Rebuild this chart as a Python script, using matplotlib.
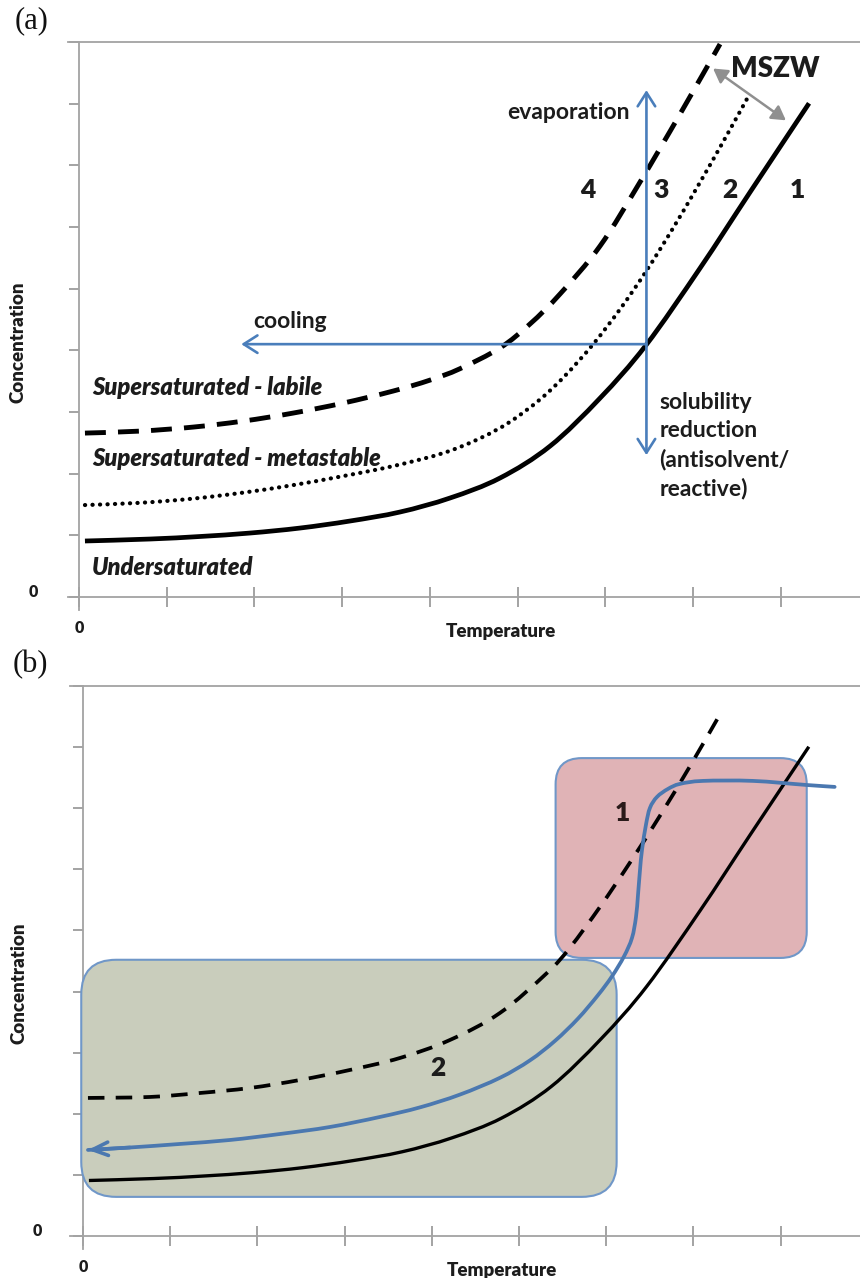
import matplotlib
matplotlib.use("Agg")
import matplotlib.pyplot as plt
from matplotlib.patches import FancyArrowPatch, FancyBboxPatch, PathPatch
from matplotlib.path import Path
from matplotlib.transforms import ScaledTranslation

plt.rcParams['font.family'] = ['Lato', 'DejaVu Sans']

# ---------------- data ----------------
temp_ticks = list(range(0, 9))
conc_ticks = list(range(0, 10))

# solubility curve (solid)
sol_T = [0.068, 0.810, 1.380, 1.950, 2.520, 3.090, 3.660, 4.230, 4.800,
         5.371, 5.941, 6.465, 7.081, 7.651, 8.324]
sol_C = [0.908, 0.940, 0.981, 1.037, 1.118, 1.232, 1.378, 1.605, 1.929,
         2.447, 3.225, 4.084, 5.332, 6.564, 8.006]

# metastable limit (dotted), panel a
meta_T = [0.068, 0.696, 1.300, 1.870, 2.440, 3.010, 3.580, 4.151, 4.572,
          4.914, 5.257, 5.542, 5.861, 6.169, 6.465, 6.773, 7.047, 7.332, 7.617]
meta_C = [1.491, 1.527, 1.595, 1.692, 1.814, 1.960, 2.122, 2.333, 2.573,
          2.840, 3.204, 3.588, 4.097, 4.667, 5.279, 5.980, 6.641, 7.350, 8.079]

# labile limit (dashed), panel a
labile_T = [0.068, 0.696, 1.300, 1.870, 2.440, 3.010, 3.580, 4.002, 4.344,
            4.800, 5.143, 5.485, 5.941, 6.397, 6.853, 7.309]
labile_C = [2.658, 2.690, 2.755, 2.852, 2.982, 3.144, 3.339, 3.517, 3.702,
            4.039, 4.428, 4.914, 5.692, 6.729, 7.831, 8.966]

# labile limit (dashed), panel b
labile_b_T = [0.057, 0.768, 1.342, 1.915, 2.489, 3.062, 3.635, 4.209, 4.782,
              5.321, 5.585, 5.929, 6.273, 6.617, 6.961, 7.282]
labile_b_C = [2.259, 2.275, 2.340, 2.422, 2.553, 2.717, 2.913, 3.208, 3.650,
              4.304, 4.719, 5.385, 6.111, 6.877, 7.687, 8.478]

# process trajectory, panel b (from right to left)
path_T = [8.620, 8.291, 7.683, 7.110, 6.846, 6.709, 6.583, 6.502, 6.456,
          6.411, 6.388, 6.365, 6.342, 6.296, 6.204, 6.067, 5.906, 5.677,
          5.413, 5.126, 4.782, 4.323, 3.865, 3.406, 2.833, 2.259, 1.686,
          1.112, 0.539, 0.057]
path_C = [7.349, 7.381, 7.447, 7.447, 7.398, 7.316, 7.185, 7.005, 6.727,
          6.318, 5.990, 5.581, 5.221, 4.877, 4.574, 4.250, 3.941, 3.558,
          3.193, 2.874, 2.589, 2.314, 2.105, 1.948, 1.784, 1.669, 1.571,
          1.506, 1.448, 1.408]

# operating arrows, panel a
cooling_T = [6.47, 1.85]
cooling_C = [4.10, 4.10]
vertical_T = [6.47, 6.47]
vertical_C = [2.30, 8.22]
mszw_T = [7.23, 8.06]
mszw_C = [8.57, 7.73]

# regions, panel b: (T0, C0, T1, C1)
region_growth = (-0.02, 0.64, 6.12, 4.52)
region_nucleation = (5.42, 4.55, 8.30, 7.82)

# ---------------- styling ----------------
AXIS_GREY = '#a3a3a3'
TICK_GREY = '#8a8a8a'
BLUE = '#4a7ebb'
TEXT = '#1c1c1c'
ANN = 16.5

fig = plt.figure(figsize=(8.6, 12.78), dpi=100)
W, H = 860.0, 1278.0


def smooth_curve(xs, ys):
    """Cubic Bezier path running through every given point (Catmull-Rom)."""
    pts = list(zip(xs, ys))
    verts = [pts[0]]
    codes = [Path.MOVETO]
    n = len(pts)
    for i in range(n - 1):
        p0 = pts[i - 1] if i > 0 else pts[i]
        p1 = pts[i]
        p2 = pts[i + 1]
        p3 = pts[i + 2] if i + 2 < n else pts[i + 1]
        c1 = (p1[0] + (p2[0] - p0[0]) / 6, p1[1] + (p2[1] - p0[1]) / 6)
        c2 = (p2[0] - (p3[0] - p1[0]) / 6, p2[1] - (p3[1] - p1[1]) / 6)
        verts += [c1, c2, p2]
        codes += [Path.CURVE4] * 3
    return Path(verts, codes)


def draw_curve(ax, xs, ys, lw, color='black', dashes=None, cap='butt', z=4):
    patch = PathPatch(smooth_curve(xs, ys), facecolor='none', edgecolor=color,
                      lw=lw, zorder=z, capstyle=cap, joinstyle='round')
    if dashes is not None:
        patch.set_linestyle((0, dashes))
    ax.add_patch(patch)
    return patch


def make_axes(left_px, right_px, top_px, bottom_px, xlim, ylim):
    ax = fig.add_axes([left_px / W, 1 - bottom_px / H,
                       (right_px - left_px) / W, (bottom_px - top_px) / H])
    ax.set_xlim(*xlim)
    ax.set_ylim(*ylim)
    ax.spines['right'].set_visible(False)
    ax.spines['left'].set_position(('data', 0))
    ax.spines['bottom'].set_position(('data', 0))
    for s in ('left', 'bottom', 'top'):
        ax.spines[s].set_color(AXIS_GREY)
        ax.spines[s].set_linewidth(1.3)
    ax.set_xticks(temp_ticks)
    ax.set_xticklabels(['0'] + [''] * (len(temp_ticks) - 1))
    ax.set_yticks(conc_ticks)
    ax.set_yticklabels(['0'] + [''] * (len(conc_ticks) - 1))
    ax.tick_params(axis='x', direction='inout', length=15, width=1.1,
                   color=TICK_GREY, pad=9, labelsize=11.5, labelcolor=TEXT)
    ax.tick_params(axis='y', direction='out', length=7.5, width=1.1,
                   color=TICK_GREY, pad=22, labelsize=11.5, labelcolor=TEXT)
    for lab in ax.get_xticklabels() + ax.get_yticklabels():
        lab.set_fontweight('heavy')
    off = ScaledTranslation(0, 5 / 72, fig.dpi_scale_trans)
    for lab in ax.get_yticklabels():
        lab.set_transform(lab.get_transform() + off)
    ax.set_facecolor('none')
    return ax


# ================= panel (a) =================
axa = make_axes(68, 860, 42, 610, (-0.1254, 8.905), (-0.211, 9))

draw_curve(axa, sol_T, sol_C, lw=3.4)
draw_curve(axa, meta_T, meta_C, lw=3.0, dashes=(0.05, 1.75), cap='round')
draw_curve(axa, labile_T, labile_C, lw=3.5, dashes=(4.3, 2.5))

axa.add_patch(FancyArrowPatch((cooling_T[0], cooling_C[0]), (cooling_T[1], cooling_C[1]),
                              arrowstyle='->,head_length=0.55,head_width=0.35',
                              mutation_scale=18, color=BLUE, lw=1.9, zorder=5,
                              shrinkA=0, shrinkB=0))
axa.add_patch(FancyArrowPatch((vertical_T[0], vertical_C[0]), (vertical_T[1], vertical_C[1]),
                              arrowstyle='<->,head_length=0.55,head_width=0.35',
                              mutation_scale=18, color=BLUE, lw=1.9, zorder=5,
                              shrinkA=0, shrinkB=0))
axa.add_patch(FancyArrowPatch((mszw_T[0], mszw_C[0]), (mszw_T[1], mszw_C[1]),
                              arrowstyle='<|-|>,head_length=0.6,head_width=0.35',
                              mutation_scale=14, color='#8f8f8f', lw=1.8, zorder=5,
                              shrinkA=0, shrinkB=0))

axa.text(7.94, 8.57, 'MSZW', fontsize=20, fontweight='heavy', color=TEXT,
         ha='center', va='center')
for lbl, tx in zip(['4', '3', '2', '1'], [5.80, 6.64, 7.42, 8.19]):
    axa.text(tx, 6.60, lbl, fontsize=19, fontweight='heavy', color=TEXT,
             ha='center', va='center')
axa.text(5.58, 7.86, 'evaporation', fontsize=ANN, fontweight='bold',
         color=TEXT, ha='center', va='center')
axa.text(2.41, 4.46, 'cooling', fontsize=ANN, fontweight='bold',
         color=TEXT, ha='center', va='center')
axa.text(6.62, 3.33, 'solubility\nreduction\n(antisolvent/\nreactive)',
         fontsize=ANN, fontweight='bold', color=TEXT, ha='left', va='top',
         linespacing=1.42)
for txt, cy in [('Supersaturated - labile', 3.39),
                ('Supersaturated - metastable', 2.24),
                ('Undersaturated', 0.48)]:
    axa.text(0.15, cy, txt, fontsize=17, fontweight='heavy', fontstyle='italic',
             color=TEXT, ha='left', va='center')

axa.text(0.547, -0.038, 'Temperature', transform=axa.transAxes, fontsize=13.5,
         fontweight='heavy', color=TEXT, ha='center', va='center')
axa.text(-0.063, 0.472, 'Concentration', transform=axa.transAxes, fontsize=13.5,
         fontweight='heavy', color=TEXT, ha='center', va='center', rotation=90)

# ================= panel (b) =================
axb = make_axes(70, 860, 686, 1249, (-0.149, 8.911), (-0.213, 9))

aspect = 87.2 / 61.1


def region(box, radius, face, z):
    t0, c0, t1, c1 = box
    p = FancyBboxPatch((t0, c0), t1 - t0, c1 - c0,
                       boxstyle='round,pad=0,rounding_size=%f' % radius,
                       mutation_aspect=aspect, facecolor=face,
                       edgecolor='#7097c8', lw=1.5, zorder=z)
    axb.add_patch(p)


region(region_growth, 0.40, '#c9cdbc', 2.6)
region(region_nucleation, 0.30, '#e0b3b6', 2.7)

draw_curve(axb, sol_T, sol_C, lw=2.4)
draw_curve(axb, labile_b_T, labile_b_C, lw=2.7, dashes=(4.4, 3.0))
draw_curve(axb, path_T, path_C, lw=2.7, color='#4b78b0', cap='round', z=5)
axb.annotate('', xy=(path_T[-1], path_C[-1]), xytext=(path_T[-2], path_C[-2]),
             arrowprops=dict(arrowstyle='->,head_length=0.7,head_width=0.3',
                             color='#4b78b0', lw=2.6, shrinkA=0, shrinkB=0,
                             mutation_scale=16),
             zorder=5)

axb.text(6.19, 6.92, '1', fontsize=19, fontweight='heavy', color='#2a1a1a',
         ha='center', va='center', zorder=6)
axb.text(4.07, 2.75, '2', fontsize=19, fontweight='heavy', color=TEXT,
         ha='center', va='center', zorder=6)

axb.text(0.547, -0.038, 'Temperature', transform=axb.transAxes, fontsize=13.5,
         fontweight='heavy', color=TEXT, ha='center', va='center')
axb.text(-0.065, 0.472, 'Concentration', transform=axb.transAxes, fontsize=13.5,
         fontweight='heavy', color=TEXT, ha='center', va='center', rotation=90)

# panel letters
fig.text(32 / W, 1 - 21 / H, '(a)', fontsize=22, family='Liberation Serif',
         ha='center', va='center', color='#111111')
fig.text(30 / W, 1 - 665 / H, '(b)', fontsize=22, family='Liberation Serif',
         ha='center', va='center', color='#111111')

fig.savefig('out.png', dpi=100, facecolor='white')
